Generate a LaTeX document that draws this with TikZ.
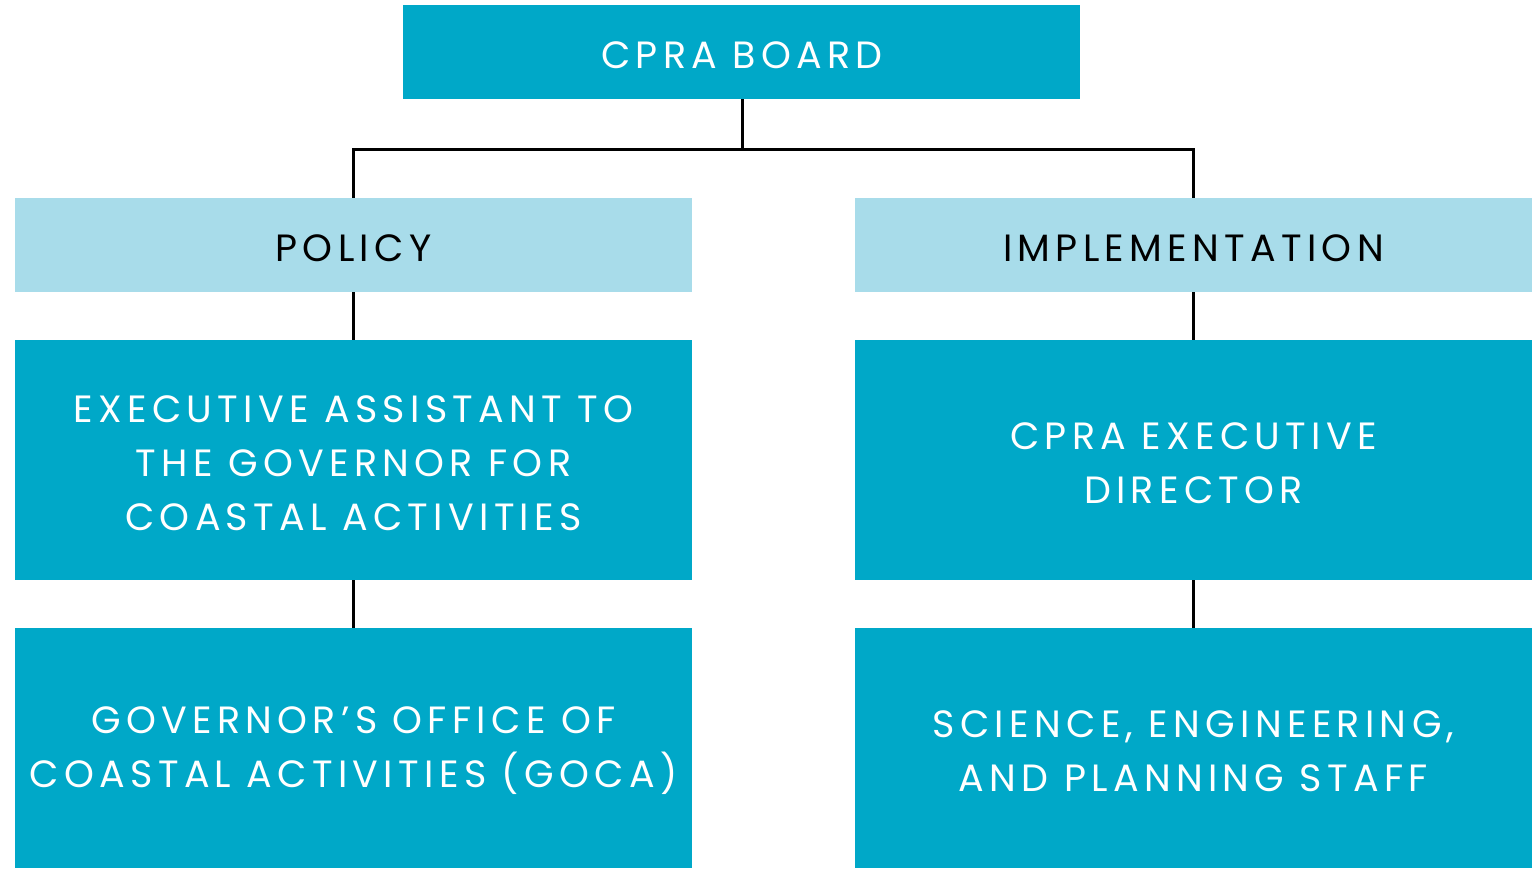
\documentclass[tikz,border=0pt]{standalone}
\usepackage{fontspec}
\setmainfont[LetterSpace=14]{Poppins}
\definecolor{teal}{HTML}{00A8C8}
\definecolor{lightb}{HTML}{A8DCEA}
\begin{document}
\begin{tikzpicture}[x=1pt,y=-1pt,
  dark/.style={fill=teal,text=white,inner sep=0pt,align=center,font=\fontsize{38}{54}\selectfont},
  light/.style={fill=lightb,text=black,inner sep=0pt,align=center,font=\fontsize{38}{54}\selectfont},
  conn/.style={draw=black,line width=3pt}]
\useasboundingbox (0,0) rectangle (1534,868);
\fill[white] (0,0) rectangle (1534,868);
\node[dark,minimum width=677pt,minimum height=94pt] (board) at (741.5,52) {};
\node[light,minimum width=677pt,minimum height=94pt] (policy) at (353.5,245) {};
\node[light,minimum width=677pt,minimum height=94pt] (impl) at (1193.5,245) {};
\node[dark,minimum width=677pt,minimum height=240pt] (exa) at (353.5,460) {};
\node[dark,minimum width=677pt,minimum height=240pt] (exd) at (1193.5,460) {};
\node[dark,minimum width=677pt,minimum height=240pt] (goca) at (353.5,748) {};
\node[dark,minimum width=677pt,minimum height=240pt] (staff) at (1193.5,748) {};
\node[dark,fill=none] (tboard) at (742,55) {CPRA BOARD};
\node[light,fill=none] (tpolicy) at (353.5,248) {POLICY};
\node[light,fill=none] (timpl) at (1193.5,248) {IMPLEMENTATION};
\node[dark,fill=none] (texa) at (353.5,463) {EXECUTIVE ASSISTANT TO\\THE GOVERNOR FOR\\COASTAL ACTIVITIES};
\node[dark,fill=none] (texd) at (1193.5,463) {CPRA EXECUTIVE\\DIRECTOR};
\node[dark,fill=none] (tgoca) at (353.5,751) {GOVERNOR’S OFFICE OF\\COASTAL ACTIVITIES (GOCA)};
\node[dark,fill=none] (tstaff) at (1193.5,751) {SCIENCE, ENGINEERING,\\AND PLANNING STAFF};
\coordinate (mid) at (742,149);
\draw[conn] (board.south -| mid) -- (mid);
\draw[conn] (policy.north) |- (mid) -| (impl.north);
\draw[conn] (policy.south) -- (exa.north);
\draw[conn] (impl.south) -- (exd.north);
\draw[conn] (exa.south) -- (goca.north);
\draw[conn] (exd.south) -- (staff.north);
\end{tikzpicture}
\end{document}
